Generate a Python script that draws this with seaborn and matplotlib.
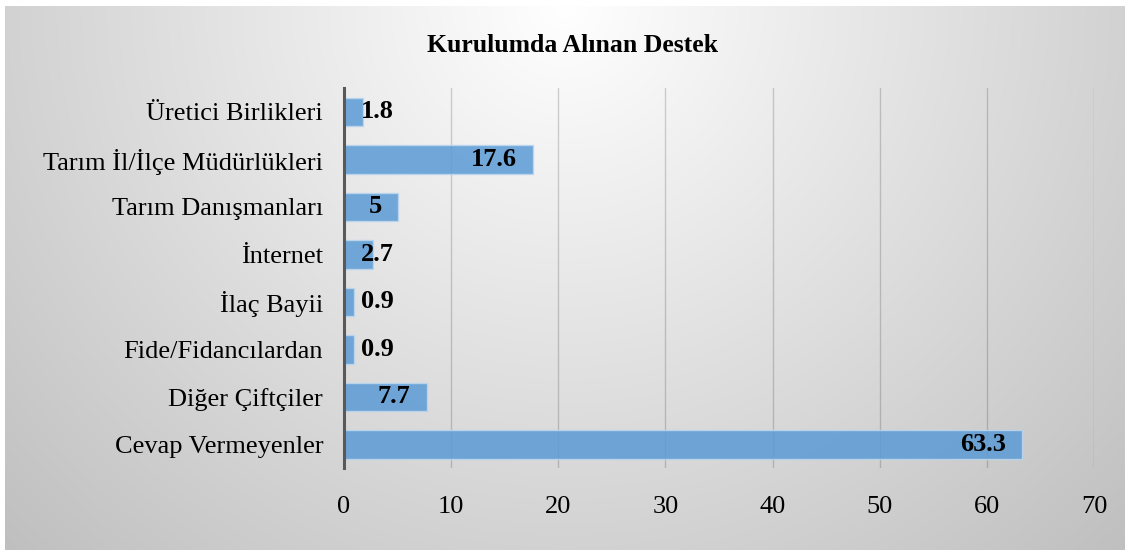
import numpy as np
import pandas as pd
import matplotlib
matplotlib.use("Agg")
import matplotlib.pyplot as plt
import seaborn as sns

# veriler
kategoriler = ["Üretici Birlikleri", "Tarım İl/İlçe Müdürlükleri", "Tarım Danışmanları",
               "İnternet", "İlaç Bayii", "Fide/Fidancılardan", "Diğer Çiftçiler",
               "Cevap Vermeyenler"]
degerler = [1.8, 17.6, 5, 2.7, 0.9, 0.9, 7.7, 63.3]
etiketler = ["1.8", "17.6", "5", "2.7", "0.9", "0.9", "7.7", "63.3"]
x_ticks = [0, 10, 20, 30, 40, 50, 60, 70]

df = pd.DataFrame({"kategori": kategoriler, "deger": degerler})

sns.set_theme(style="white")
plt.rcParams["font.family"] = ["Liberation Serif", "DejaVu Serif"]
plt.rcParams["text.color"] = "black"
plt.rcParams["xtick.color"] = "black"
plt.rcParams["ytick.color"] = "black"

fig = plt.figure(figsize=(11.29, 5.5), dpi=100)

# arka plan gradyanı (üst ortada beyaz, kenarlara doğru gri)
bg = fig.add_axes([0.004, 0.0, 0.992, 0.99])
gx, gy = np.meshgrid(np.linspace(0, 1, 400), np.linspace(0, 1, 200))
d = np.sqrt(((gx - 0.5) / 0.5) ** 2 + gy ** 2) / np.sqrt(2)
g = 1 - 0.25 * np.clip(d, 0, 1)
bg.imshow(np.dstack([g, g, g]), aspect="auto", extent=[0, 1, 1, 0])
bg.set_axis_off()

ax = fig.add_axes([0.3047, 0.149, 0.6643, 0.691])
ax.patch.set_alpha(0)

sns.barplot(data=df, y="kategori", x="deger", orient="h", ax=ax, width=0.6,
            color="#5b9bd5", alpha=0.85, edgecolor="#bdd7ee", linewidth=1,
            saturation=1, zorder=2)

ax.set_xlim(0, 70)
ax.set_xticks(x_ticks)
ax.set_xticklabels([str(t) for t in x_ticks], fontsize=19)
ax.tick_params(axis="x", length=0, pad=20)
ax.tick_params(axis="y", length=0, pad=15, labelsize=19)
ax.set_xlabel("")
ax.set_ylabel("")
ax.grid(axis="x", color="black", alpha=0.17, linewidth=1, zorder=0)
ax.set_axisbelow(True)
for s in ["top", "right", "bottom"]:
    ax.spines[s].set_visible(False)
ax.spines["left"].set_color("#595959")
ax.spines["left"].set_linewidth(2.2)
ax.spines["left"].set_zorder(5)

fig.text(0.507, 1 - 46 / 550, "Kurulumda Alınan Destek", ha="center", va="center",
         fontsize=18.5, fontweight="bold")

# değer etiketleri: çubuğun iç ucunda, kısa çubuklarda eksenden sonra
metinler = []
for i, (v, lbl) in enumerate(zip(degerler, etiketler)):
    t = ax.annotate(lbl, xy=(v, i), xytext=(-16 * 0.72, 0), textcoords="offset points",
                    ha="right", va="center", fontsize=19, fontweight="bold", zorder=6)
    metinler.append(t)

fig.canvas.draw()
x0 = ax.transData.transform((0, 0))[0]
for t in metinler:
    bb = t.get_window_extent()
    if bb.x0 < x0 + 17:
        kay = x0 + 17 - bb.x0
        t.set_position(((-16 + kay) * 0.72, 0))

fig.savefig("out.png", dpi=100)
